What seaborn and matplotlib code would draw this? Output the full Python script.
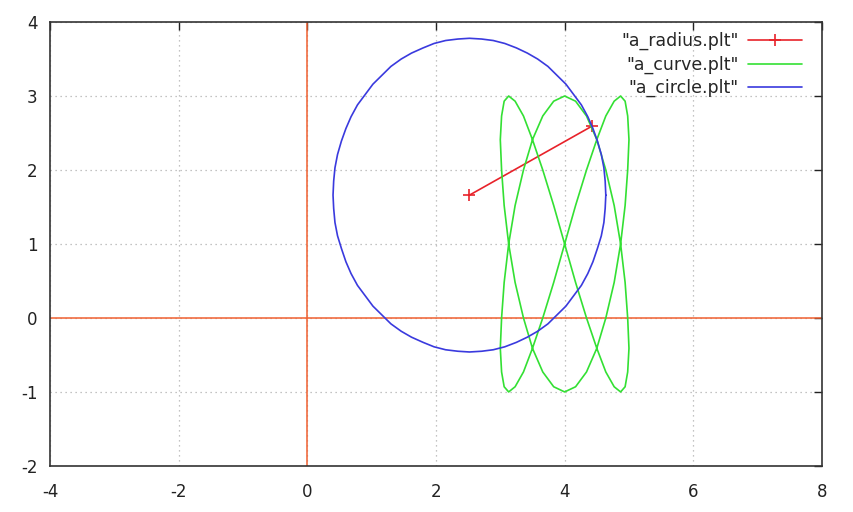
import matplotlib
matplotlib.use("Agg")
import matplotlib.pyplot as plt
import numpy as np
import pandas as pd
import seaborn as sns

# a_radius.plt : centre of circle -> point on circle
radius_x = [2.52, 4.42]
radius_y = [1.66, 2.59]

# a_curve.plt : points
curve_x = [4.00, 4.17, 4.34, 4.50, 4.64, 4.77, 4.87, 4.94, 4.98, 5.00, 4.98, 4.94,
           4.87, 4.77, 4.64, 4.50, 4.34, 4.17, 4.00, 3.83, 3.66, 3.50, 3.36, 3.23,
           3.13, 3.06, 3.02, 3.00, 3.02, 3.06, 3.13, 3.23, 3.36, 3.50, 3.66, 3.83,
           4.00, 4.17, 4.34, 4.50, 4.64, 4.77, 4.87, 4.94, 4.98, 5.00, 4.98, 4.94,
           4.87, 4.77, 4.64, 4.50, 4.34, 4.17, 4.00, 3.83, 3.66, 3.50, 3.36, 3.23,
           3.13, 3.06, 3.02, 3.00, 3.02, 3.06, 3.13, 3.23, 3.36, 3.50, 3.66, 3.83,
           4.00]
curve_y = [1.00, 1.52, 2.00, 2.41, 2.73, 2.93, 3.00, 2.93, 2.73, 2.41, 2.00, 1.52,
           1.00, 0.48, 0.00, -0.41, -0.73, -0.93, -1.00, -0.93, -0.73, -0.41, 0.00, 0.48,
           1.00, 1.52, 2.00, 2.41, 2.73, 2.93, 3.00, 2.93, 2.73, 2.41, 2.00, 1.52,
           1.00, 0.48, 0.00, -0.41, -0.73, -0.93, -1.00, -0.93, -0.73, -0.41, 0.00, 0.48,
           1.00, 1.52, 2.00, 2.41, 2.73, 2.93, 3.00, 2.93, 2.73, 2.41, 2.00, 1.52,
           1.00, 0.48, 0.00, -0.41, -0.73, -0.93, -1.00, -0.93, -0.73, -0.41, 0.00, 0.48,
           1.00]

# a_circle.plt : points
circle_x = [4.64, 4.63, 4.61, 4.57, 4.51, 4.44, 4.36, 4.26, 4.14, 4.02, 3.88, 3.74,
            3.58, 3.42, 3.25, 3.07, 2.89, 2.71, 2.52,
            2.34, 2.15, 1.97, 1.80, 1.62, 1.46, 1.30, 1.16, 1.02, 0.90, 0.78, 0.68,
            0.60, 0.53, 0.47, 0.43, 0.41, 0.40,
            0.41, 0.43, 0.47, 0.53, 0.60, 0.68, 0.78, 0.90, 1.02, 1.16, 1.30, 1.46,
            1.62, 1.80, 1.97, 2.15, 2.34, 2.52,
            2.71, 2.89, 3.07, 3.25, 3.42, 3.58, 3.74, 3.88, 4.02, 4.14, 4.26, 4.36,
            4.44, 4.51, 4.57, 4.61, 4.63, 4.64]
circle_y = [1.66, 1.85, 2.03, 2.21, 2.39, 2.56, 2.72, 2.88, 3.02, 3.16, 3.28, 3.40,
            3.50, 3.58, 3.65, 3.71, 3.75, 3.77, 3.78,
            3.77, 3.75, 3.71, 3.65, 3.58, 3.50, 3.40, 3.28, 3.16, 3.02, 2.88, 2.72,
            2.56, 2.39, 2.21, 2.03, 1.85, 1.66,
            1.48, 1.29, 1.11, 0.94, 0.76, 0.60, 0.44, 0.30, 0.16, 0.04, -0.08, -0.18,
            -0.26, -0.33, -0.39, -0.43, -0.45, -0.46,
            -0.45, -0.43, -0.39, -0.33, -0.26, -0.18, -0.08, 0.04, 0.16, 0.30, 0.44, 0.60,
            0.76, 0.94, 1.11, 1.29, 1.48, 1.66]

xticks = [-4, -2, 0, 2, 4, 6, 8]
yticks = [-2, -1, 0, 1, 2, 3, 4]

sns.set_style("white")
plt.rcParams['font.family'] = ['DejaVu Sans']

fig, ax = plt.subplots(figsize=(8.54, 5.12), dpi=100)
fig.subplots_adjust(left=0.0585, right=0.9625, top=0.957, bottom=0.09)

ax.grid(True, color="#b0b0b0", linestyle=(0, (1, 3)), linewidth=0.9)
ax.axhline(0, color="#f06030", linewidth=1.1, zorder=1.5)
ax.axvline(0, color="#f06030", linewidth=1.1, zorder=1.5)

df_r = pd.DataFrame({"x": radius_x, "y": radius_y})
df_c = pd.DataFrame({"x": curve_x, "y": curve_y})
df_o = pd.DataFrame({"x": circle_x, "y": circle_y})

red = "#e8222a"
sns.lineplot(data=df_r, x="x", y="y", sort=False, estimator=None, ax=ax,
             color=red, linewidth=1.2, marker="+", markersize=9,
             markeredgewidth=1.2, markeredgecolor=red, label='"a_radius.plt"')
sns.lineplot(data=df_c, x="x", y="y", sort=False, estimator=None, ax=ax,
             color="#33e033", linewidth=1.2, label='"a_curve.plt"')
sns.lineplot(data=df_o, x="x", y="y", sort=False, estimator=None, ax=ax,
             color="#3a3ade", linewidth=1.2, label='"a_circle.plt"')

ax.set_xlim(-4, 8)
ax.set_ylim(-2, 4)
ax.set_xticks(xticks)
ax.set_yticks(yticks)
ax.set_xticklabels([str(v) for v in xticks])
ax.set_yticklabels([str(v) for v in yticks])
ax.set_xlabel("")
ax.set_ylabel("")
ax.tick_params(direction="in", length=6, width=1, top=True, right=True,
               labelsize=12, colors="#222222")
ax.tick_params(axis="x", pad=12)
ax.tick_params(axis="y", pad=9)
for s in ax.spines.values():
    s.set_color("#333333")
    s.set_linewidth(1.2)

ax.legend(loc="upper right", bbox_to_anchor=(0.974, 0.977), frameon=False,
          markerfirst=False, handlelength=3.1, fontsize=12.5, labelspacing=0.3,
          handletextpad=0.55, borderaxespad=0, borderpad=0)

plt.savefig("out.png", dpi=100)
